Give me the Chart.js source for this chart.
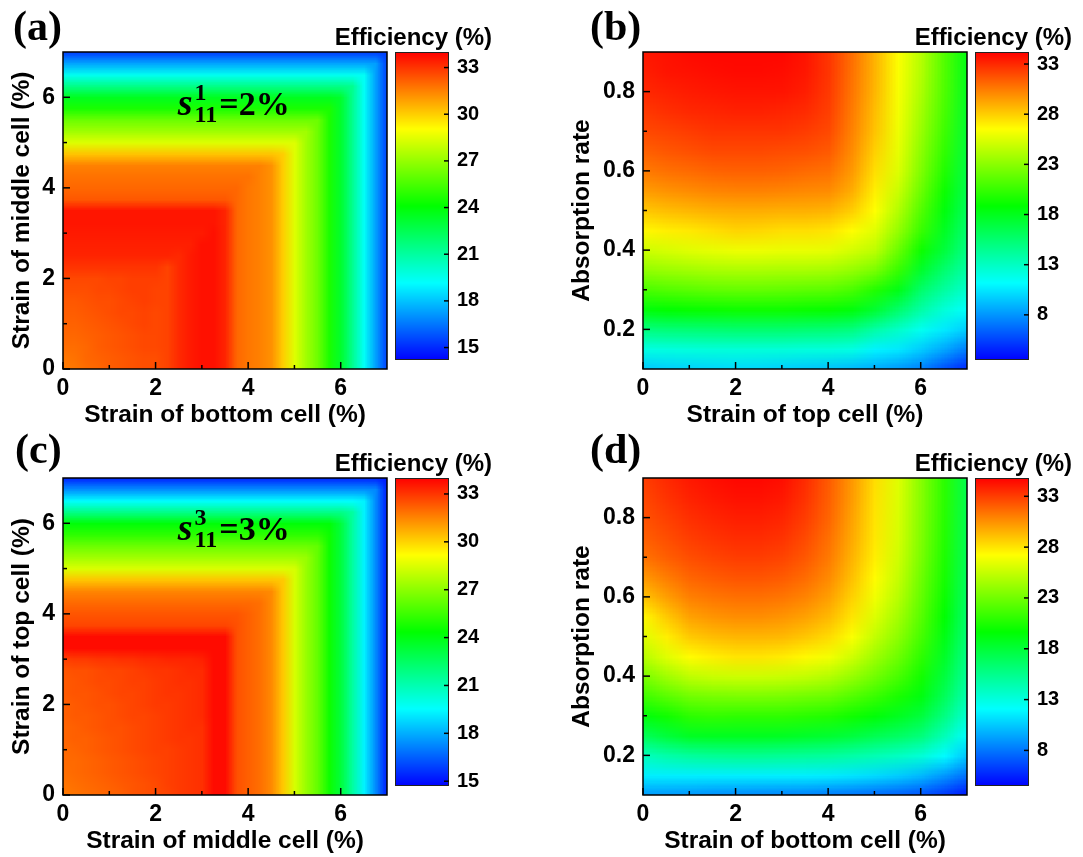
<!DOCTYPE html>
<html>
<head>
<meta charset="utf-8">
<script src="https://cdn.jsdelivr.net/npm/chart.js@4.4.0/dist/chart.umd.min.js"></script>
<style>
  body { margin: 0; background: #fff; width: 1083px; height: 857px; position: relative; overflow: hidden; }
  canvas { position: absolute; }
</style>
</head>
<body>
<canvas id="mapA" width="390" height="430" style="left:0px;top:0px"></canvas>
<canvas id="barA" width="168" height="380" style="left:325px;top:0px"></canvas>
<canvas id="mapB" width="410" height="430" style="left:560px;top:0px"></canvas>
<canvas id="barB" width="168" height="380" style="left:905px;top:0px"></canvas>
<canvas id="mapC" width="390" height="430" style="left:0px;top:426px"></canvas>
<canvas id="barC" width="168" height="380" style="left:325px;top:426px"></canvas>
<canvas id="mapD" width="410" height="430" style="left:560px;top:426px"></canvas>
<canvas id="barD" width="168" height="380" style="left:905px;top:426px"></canvas>
<script>
// grid positions
const strainFine = [0, 0.25, 0.5, 0.75, 1, 1.25, 1.5, 1.75, 2, 2.25, 2.5, 2.75, 3, 3.25, 3.5, 3.75,
  4, 4.25, 4.5, 4.75, 5, 5.25, 5.5, 5.75, 6, 6.25, 6.5, 6.75, 7];
const strainSteps = [0, 0.5, 1, 1.5, 2, 2.5, 3, 3.5, 4, 4.5, 5, 5.5, 6, 6.5, 7];
const absorbSteps = [0.1, 0.15, 0.2, 0.25, 0.3, 0.35, 0.4, 0.45, 0.5, 0.55, 0.6, 0.65, 0.7, 0.75, 0.8, 0.85, 0.9];

// tick values
const strainTicks = [0, 2, 4, 6];
const strainMinor = [1, 3, 5];
const absorbTicks = [0.2, 0.4, 0.6, 0.8];
const absorbMinor = [0.3, 0.5, 0.7];
const barTicksAC = [15, 18, 21, 24, 27, 30, 33];
const barTicksBD = [8, 13, 18, 23, 28, 33];

// colour bar ranges (%)
const rangeA = [14.2, 34.0];
const rangeB = [3.5, 34.2];
const rangeC = [14.7, 34.0];
const rangeD = [4.5, 34.8];

// (a) efficiency, rows = middle cell strain 0..7 (step 0.25), columns = bottom cell strain 0..7
const effA = [
  [31.6, 31.7, 31.9, 32.0, 32.2, 32.3, 32.4, 32.5, 32.5, 32.7, 33.2, 33.5, 33.7, 33.7, 33.3, 32.0, 31.7, 31.5, 31.2, 30.0, 28.4, 27.2, 26.2, 24.6, 23.2, 21.3, 19.3, 17.3, 15.4],
  [31.7, 31.8, 32.0, 32.1, 32.2, 32.3, 32.4, 32.5, 32.5, 32.7, 33.2, 33.5, 33.7, 33.7, 33.3, 32.0, 31.7, 31.5, 31.2, 30.0, 28.4, 27.2, 26.2, 24.6, 23.2, 21.3, 19.3, 17.3, 15.4],
  [31.9, 31.9, 32.0, 32.2, 32.3, 32.4, 32.5, 32.6, 32.6, 32.7, 33.2, 33.5, 33.7, 33.7, 33.3, 32.0, 31.7, 31.5, 31.2, 30.0, 28.4, 27.2, 26.2, 24.6, 23.2, 21.3, 19.3, 17.3, 15.4],
  [32.0, 32.0, 32.1, 32.2, 32.3, 32.4, 32.5, 32.6, 32.6, 32.7, 33.2, 33.5, 33.7, 33.7, 33.3, 32.0, 31.7, 31.5, 31.2, 30.0, 28.4, 27.2, 26.2, 24.6, 23.2, 21.3, 19.3, 17.3, 15.4],
  [32.1, 32.1, 32.2, 32.3, 32.4, 32.5, 32.6, 32.7, 32.6, 32.7, 33.2, 33.5, 33.7, 33.7, 33.3, 32.0, 31.7, 31.5, 31.2, 30.0, 28.4, 27.2, 26.2, 24.6, 23.2, 21.3, 19.3, 17.3, 15.4],
  [32.2, 32.2, 32.3, 32.4, 32.5, 32.6, 32.6, 32.7, 32.6, 32.7, 33.2, 33.5, 33.7, 33.7, 33.3, 32.0, 31.7, 31.5, 31.2, 30.0, 28.4, 27.2, 26.2, 24.6, 23.2, 21.3, 19.3, 17.3, 15.4],
  [32.3, 32.3, 32.4, 32.5, 32.5, 32.6, 32.7, 32.8, 32.7, 32.7, 33.2, 33.5, 33.7, 33.7, 33.3, 32.0, 31.7, 31.5, 31.2, 30.0, 28.4, 27.2, 26.2, 24.6, 23.2, 21.3, 19.3, 17.3, 15.4],
  [32.5, 32.5, 32.5, 32.6, 32.6, 32.7, 32.8, 32.8, 32.7, 32.7, 33.2, 33.5, 33.7, 33.7, 33.3, 32.0, 31.7, 31.5, 31.2, 30.0, 28.4, 27.2, 26.2, 24.6, 23.2, 21.3, 19.3, 17.3, 15.4],
  [32.6, 32.6, 32.6, 32.6, 32.7, 32.7, 32.8, 32.8, 32.8, 32.7, 33.2, 33.5, 33.7, 33.7, 33.3, 32.0, 31.7, 31.5, 31.2, 30.0, 28.4, 27.2, 26.2, 24.6, 23.2, 21.3, 19.3, 17.3, 15.4],
  [33.0, 33.0, 33.0, 33.0, 33.0, 33.0, 33.0, 33.0, 33.0, 32.7, 33.2, 33.5, 33.7, 33.7, 33.3, 32.0, 31.7, 31.5, 31.2, 30.0, 28.4, 27.2, 26.2, 24.6, 23.2, 21.3, 19.3, 17.3, 15.4],
  [33.3, 33.3, 33.3, 33.3, 33.3, 33.3, 33.3, 33.3, 33.3, 33.3, 33.2, 33.5, 33.7, 33.7, 33.3, 32.0, 31.7, 31.5, 31.2, 30.0, 28.4, 27.2, 26.2, 24.6, 23.2, 21.3, 19.3, 17.3, 15.4],
  [33.4, 33.4, 33.4, 33.4, 33.4, 33.4, 33.4, 33.4, 33.4, 33.4, 33.4, 33.4, 33.7, 33.7, 33.3, 32.0, 31.7, 31.5, 31.2, 30.0, 28.4, 27.2, 26.2, 24.6, 23.2, 21.3, 19.3, 17.3, 15.4],
  [33.5, 33.5, 33.5, 33.5, 33.5, 33.5, 33.5, 33.5, 33.5, 33.5, 33.5, 33.5, 33.5, 33.7, 33.3, 32.0, 31.7, 31.5, 31.2, 30.0, 28.4, 27.2, 26.2, 24.6, 23.2, 21.3, 19.3, 17.3, 15.4],
  [33.6, 33.6, 33.6, 33.6, 33.6, 33.6, 33.6, 33.6, 33.6, 33.6, 33.6, 33.6, 33.6, 33.6, 33.3, 32.0, 31.7, 31.5, 31.2, 30.0, 28.4, 27.2, 26.2, 24.6, 23.2, 21.3, 19.3, 17.3, 15.4],
  [33.6, 33.6, 33.6, 33.6, 33.6, 33.6, 33.6, 33.6, 33.6, 33.6, 33.6, 33.6, 33.6, 33.6, 33.3, 32.0, 31.7, 31.5, 31.2, 30.0, 28.4, 27.2, 26.2, 24.6, 23.2, 21.3, 19.3, 17.3, 15.4],
  [32.3, 32.3, 32.3, 32.3, 32.3, 32.3, 32.3, 32.3, 32.3, 32.3, 32.3, 32.3, 32.3, 32.3, 32.3, 32.0, 31.7, 31.5, 31.2, 30.0, 28.4, 27.2, 26.2, 24.6, 23.2, 21.3, 19.3, 17.3, 15.4],
  [32.0, 32.0, 32.0, 32.0, 32.0, 32.0, 32.0, 32.0, 32.0, 32.0, 32.0, 32.0, 32.0, 32.0, 32.0, 32.0, 31.7, 31.5, 31.2, 30.0, 28.4, 27.2, 26.2, 24.6, 23.2, 21.3, 19.3, 17.3, 15.4],
  [31.8, 31.8, 31.8, 31.8, 31.8, 31.8, 31.8, 31.8, 31.8, 31.8, 31.8, 31.8, 31.8, 31.8, 31.8, 31.8, 31.8, 31.5, 31.2, 30.0, 28.4, 27.2, 26.2, 24.6, 23.2, 21.3, 19.3, 17.3, 15.4],
  [31.5, 31.5, 31.5, 31.5, 31.5, 31.5, 31.5, 31.5, 31.5, 31.5, 31.5, 31.5, 31.5, 31.5, 31.5, 31.5, 31.5, 31.5, 31.2, 30.0, 28.4, 27.2, 26.2, 24.6, 23.2, 21.3, 19.3, 17.3, 15.4],
  [30.2, 30.2, 30.2, 30.2, 30.2, 30.2, 30.2, 30.2, 30.2, 30.2, 30.2, 30.2, 30.2, 30.2, 30.2, 30.2, 30.2, 30.2, 30.2, 30.0, 28.4, 27.2, 26.2, 24.6, 23.2, 21.3, 19.3, 17.3, 15.4],
  [28.4, 28.4, 28.4, 28.4, 28.4, 28.4, 28.4, 28.4, 28.4, 28.4, 28.4, 28.4, 28.4, 28.4, 28.4, 28.4, 28.4, 28.4, 28.4, 28.4, 28.4, 27.2, 26.2, 24.6, 23.2, 21.3, 19.3, 17.3, 15.4],
  [27.2, 27.2, 27.2, 27.2, 27.2, 27.2, 27.2, 27.2, 27.2, 27.2, 27.2, 27.2, 27.2, 27.2, 27.2, 27.2, 27.2, 27.2, 27.2, 27.2, 27.2, 27.2, 26.2, 24.6, 23.2, 21.3, 19.3, 17.3, 15.4],
  [26.2, 26.2, 26.2, 26.2, 26.2, 26.2, 26.2, 26.2, 26.2, 26.2, 26.2, 26.2, 26.2, 26.2, 26.2, 26.2, 26.2, 26.2, 26.2, 26.2, 26.2, 26.2, 26.2, 24.6, 23.2, 21.3, 19.3, 17.3, 15.4],
  [24.6, 24.6, 24.6, 24.6, 24.6, 24.6, 24.6, 24.6, 24.6, 24.6, 24.6, 24.6, 24.6, 24.6, 24.6, 24.6, 24.6, 24.6, 24.6, 24.6, 24.6, 24.6, 24.6, 24.6, 23.2, 21.3, 19.3, 17.3, 15.4],
  [23.5, 23.5, 23.5, 23.5, 23.5, 23.5, 23.5, 23.5, 23.5, 23.5, 23.5, 23.5, 23.5, 23.5, 23.5, 23.5, 23.5, 23.5, 23.5, 23.5, 23.5, 23.5, 23.5, 23.5, 23.2, 21.3, 19.3, 17.3, 15.4],
  [21.5, 21.5, 21.5, 21.5, 21.5, 21.5, 21.5, 21.5, 21.5, 21.5, 21.5, 21.5, 21.5, 21.5, 21.5, 21.5, 21.5, 21.5, 21.5, 21.5, 21.5, 21.5, 21.5, 21.5, 21.5, 21.3, 19.3, 17.3, 15.4],
  [19.4, 19.4, 19.4, 19.4, 19.4, 19.4, 19.4, 19.4, 19.4, 19.4, 19.4, 19.4, 19.4, 19.4, 19.4, 19.4, 19.4, 19.4, 19.4, 19.4, 19.4, 19.4, 19.4, 19.4, 19.4, 19.4, 19.3, 17.3, 15.4],
  [17.4, 17.4, 17.4, 17.4, 17.4, 17.4, 17.4, 17.4, 17.4, 17.4, 17.4, 17.4, 17.4, 17.4, 17.4, 17.4, 17.4, 17.4, 17.4, 17.4, 17.4, 17.4, 17.4, 17.4, 17.4, 17.4, 17.4, 17.3, 15.4],
  [15.4, 15.4, 15.4, 15.4, 15.4, 15.4, 15.4, 15.4, 15.4, 15.4, 15.4, 15.4, 15.4, 15.4, 15.4, 15.4, 15.4, 15.4, 15.4, 15.4, 15.4, 15.4, 15.4, 15.4, 15.4, 15.4, 15.4, 15.4, 15.4]
];

// (c) efficiency, rows = top cell strain 0..7 (step 0.25), columns = middle cell strain 0..7
const effC = [
  [31.7, 31.8, 31.9, 32.0, 32.1, 32.2, 32.4, 32.5, 32.6, 32.7, 32.9, 33.0, 33.1, 33.8, 33.8, 32.5, 32.2, 31.9, 31.4, 30.2, 28.4, 27.2, 26.2, 24.6, 23.2, 21.3, 19.3, 17.3, 15.2],
  [31.8, 31.9, 32.0, 32.1, 32.2, 32.3, 32.4, 32.5, 32.6, 32.8, 32.9, 33.0, 33.1, 33.8, 33.8, 32.5, 32.2, 31.9, 31.4, 30.2, 28.4, 27.2, 26.2, 24.6, 23.2, 21.3, 19.3, 17.3, 15.2],
  [31.9, 32.0, 32.1, 32.2, 32.3, 32.4, 32.5, 32.6, 32.7, 32.8, 32.9, 33.0, 33.1, 33.8, 33.8, 32.5, 32.2, 31.9, 31.4, 30.2, 28.4, 27.2, 26.2, 24.6, 23.2, 21.3, 19.3, 17.3, 15.2],
  [32.0, 32.0, 32.1, 32.2, 32.3, 32.4, 32.5, 32.6, 32.7, 32.8, 32.9, 33.0, 33.1, 33.8, 33.8, 32.5, 32.2, 31.9, 31.4, 30.2, 28.4, 27.2, 26.2, 24.6, 23.2, 21.3, 19.3, 17.3, 15.2],
  [32.0, 32.1, 32.2, 32.3, 32.4, 32.5, 32.6, 32.7, 32.8, 32.8, 32.9, 33.0, 33.1, 33.8, 33.8, 32.5, 32.2, 31.9, 31.4, 30.2, 28.4, 27.2, 26.2, 24.6, 23.2, 21.3, 19.3, 17.3, 15.2],
  [32.1, 32.2, 32.2, 32.3, 32.4, 32.5, 32.6, 32.7, 32.8, 32.9, 33.0, 33.0, 33.1, 33.8, 33.8, 32.5, 32.2, 31.9, 31.4, 30.2, 28.4, 27.2, 26.2, 24.6, 23.2, 21.3, 19.3, 17.3, 15.2],
  [32.1, 32.2, 32.3, 32.4, 32.5, 32.5, 32.6, 32.7, 32.8, 32.9, 33.0, 33.1, 33.1, 33.8, 33.8, 32.5, 32.2, 31.9, 31.4, 30.2, 28.4, 27.2, 26.2, 24.6, 23.2, 21.3, 19.3, 17.3, 15.2],
  [32.2, 32.3, 32.3, 32.4, 32.5, 32.6, 32.7, 32.7, 32.8, 32.9, 33.0, 33.1, 33.2, 33.8, 33.8, 32.5, 32.2, 31.9, 31.4, 30.2, 28.4, 27.2, 26.2, 24.6, 23.2, 21.3, 19.3, 17.3, 15.2],
  [32.2, 32.3, 32.4, 32.5, 32.5, 32.6, 32.7, 32.8, 32.9, 32.9, 33.0, 33.1, 33.2, 33.8, 33.8, 32.5, 32.2, 31.9, 31.4, 30.2, 28.4, 27.2, 26.2, 24.6, 23.2, 21.3, 19.3, 17.3, 15.2],
  [32.3, 32.4, 32.4, 32.5, 32.6, 32.7, 32.7, 32.8, 32.9, 33.0, 33.0, 33.1, 33.2, 33.8, 33.8, 32.5, 32.2, 31.9, 31.4, 30.2, 28.4, 27.2, 26.2, 24.6, 23.2, 21.3, 19.3, 17.3, 15.2],
  [32.3, 32.4, 32.5, 32.6, 32.6, 32.7, 32.8, 32.8, 32.9, 33.0, 33.1, 33.1, 33.2, 33.8, 33.8, 32.5, 32.2, 31.9, 31.4, 30.2, 28.4, 27.2, 26.2, 24.6, 23.2, 21.3, 19.3, 17.3, 15.2],
  [32.4, 32.5, 32.5, 32.6, 32.7, 32.7, 32.8, 32.9, 33.0, 33.0, 33.1, 33.2, 33.2, 33.8, 33.8, 32.5, 32.2, 31.9, 31.4, 30.2, 28.4, 27.2, 26.2, 24.6, 23.2, 21.3, 19.3, 17.3, 15.2],
  [32.8, 32.9, 32.9, 33.0, 33.0, 33.1, 33.1, 33.2, 33.2, 33.3, 33.3, 33.3, 33.4, 33.8, 33.8, 32.5, 32.2, 31.9, 31.4, 30.2, 28.4, 27.2, 26.2, 24.6, 23.2, 21.3, 19.3, 17.3, 15.2],
  [33.8, 33.8, 33.8, 33.8, 33.8, 33.8, 33.8, 33.8, 33.8, 33.8, 33.8, 33.8, 33.8, 33.8, 33.8, 32.5, 32.2, 31.9, 31.4, 30.2, 28.4, 27.2, 26.2, 24.6, 23.2, 21.3, 19.3, 17.3, 15.2],
  [33.8, 33.8, 33.8, 33.8, 33.8, 33.8, 33.8, 33.8, 33.8, 33.8, 33.8, 33.8, 33.8, 33.8, 33.8, 32.5, 32.2, 31.9, 31.4, 30.2, 28.4, 27.2, 26.2, 24.6, 23.2, 21.3, 19.3, 17.3, 15.2],
  [32.7, 32.7, 32.7, 32.7, 32.7, 32.7, 32.7, 32.7, 32.7, 32.7, 32.7, 32.7, 32.7, 32.7, 32.7, 32.5, 32.2, 31.9, 31.4, 30.2, 28.4, 27.2, 26.2, 24.6, 23.2, 21.3, 19.3, 17.3, 15.2],
  [32.4, 32.4, 32.4, 32.4, 32.4, 32.4, 32.4, 32.4, 32.4, 32.4, 32.4, 32.4, 32.4, 32.4, 32.4, 32.4, 32.2, 31.9, 31.4, 30.2, 28.4, 27.2, 26.2, 24.6, 23.2, 21.3, 19.3, 17.3, 15.2],
  [32.0, 32.0, 32.0, 32.0, 32.0, 32.0, 32.0, 32.0, 32.0, 32.0, 32.0, 32.0, 32.0, 32.0, 32.0, 32.0, 32.0, 31.9, 31.4, 30.2, 28.4, 27.2, 26.2, 24.6, 23.2, 21.3, 19.3, 17.3, 15.2],
  [31.5, 31.5, 31.5, 31.5, 31.5, 31.5, 31.5, 31.5, 31.5, 31.5, 31.5, 31.5, 31.5, 31.5, 31.5, 31.5, 31.5, 31.5, 31.4, 30.2, 28.4, 27.2, 26.2, 24.6, 23.2, 21.3, 19.3, 17.3, 15.2],
  [30.3, 30.3, 30.3, 30.3, 30.3, 30.3, 30.3, 30.3, 30.3, 30.3, 30.3, 30.3, 30.3, 30.3, 30.3, 30.3, 30.3, 30.3, 30.3, 30.2, 28.4, 27.2, 26.2, 24.6, 23.2, 21.3, 19.3, 17.3, 15.2],
  [28.5, 28.5, 28.5, 28.5, 28.5, 28.5, 28.5, 28.5, 28.5, 28.5, 28.5, 28.5, 28.5, 28.5, 28.5, 28.5, 28.5, 28.5, 28.5, 28.5, 28.4, 27.2, 26.2, 24.6, 23.2, 21.3, 19.3, 17.3, 15.2],
  [27.4, 27.4, 27.4, 27.4, 27.4, 27.4, 27.4, 27.4, 27.4, 27.4, 27.4, 27.4, 27.4, 27.4, 27.4, 27.4, 27.4, 27.4, 27.4, 27.4, 27.4, 27.2, 26.2, 24.6, 23.2, 21.3, 19.3, 17.3, 15.2],
  [26.4, 26.4, 26.4, 26.4, 26.4, 26.4, 26.4, 26.4, 26.4, 26.4, 26.4, 26.4, 26.4, 26.4, 26.4, 26.4, 26.4, 26.4, 26.4, 26.4, 26.4, 26.4, 26.2, 24.6, 23.2, 21.3, 19.3, 17.3, 15.2],
  [25.2, 25.2, 25.2, 25.2, 25.2, 25.2, 25.2, 25.2, 25.2, 25.2, 25.2, 25.2, 25.2, 25.2, 25.2, 25.2, 25.2, 25.2, 25.2, 25.2, 25.2, 25.2, 25.2, 24.6, 23.2, 21.3, 19.3, 17.3, 15.2],
  [24.2, 24.2, 24.2, 24.2, 24.2, 24.2, 24.2, 24.2, 24.2, 24.2, 24.2, 24.2, 24.2, 24.2, 24.2, 24.2, 24.2, 24.2, 24.2, 24.2, 24.2, 24.2, 24.2, 24.2, 23.2, 21.3, 19.3, 17.3, 15.2],
  [21.8, 21.8, 21.8, 21.8, 21.8, 21.8, 21.8, 21.8, 21.8, 21.8, 21.8, 21.8, 21.8, 21.8, 21.8, 21.8, 21.8, 21.8, 21.8, 21.8, 21.8, 21.8, 21.8, 21.8, 21.8, 21.3, 19.3, 17.3, 15.2],
  [19.5, 19.5, 19.5, 19.5, 19.5, 19.5, 19.5, 19.5, 19.5, 19.5, 19.5, 19.5, 19.5, 19.5, 19.5, 19.5, 19.5, 19.5, 19.5, 19.5, 19.5, 19.5, 19.5, 19.5, 19.5, 19.5, 19.3, 17.3, 15.2],
  [17.4, 17.4, 17.4, 17.4, 17.4, 17.4, 17.4, 17.4, 17.4, 17.4, 17.4, 17.4, 17.4, 17.4, 17.4, 17.4, 17.4, 17.4, 17.4, 17.4, 17.4, 17.4, 17.4, 17.4, 17.4, 17.4, 17.4, 17.3, 15.2],
  [15.4, 15.4, 15.4, 15.4, 15.4, 15.4, 15.4, 15.4, 15.4, 15.4, 15.4, 15.4, 15.4, 15.4, 15.4, 15.4, 15.4, 15.4, 15.4, 15.4, 15.4, 15.4, 15.4, 15.4, 15.4, 15.4, 15.4, 15.4, 15.2]
];

// (b) efficiency, one column per top cell strain (step 0.5), absorption 0.1 -> 0.9
const effB = [
  [9.5, 12.0, 15.0, 18.5, 21.0, 23.2, 25.0, 26.7, 28.2, 29.5, 30.5, 31.3, 32.0, 32.5, 33.0, 33.3, 33.5],
  [9.7, 12.1, 15.2, 18.8, 21.3, 23.5, 25.3, 27.0, 28.5, 29.8, 30.8, 31.6, 32.2, 32.8, 33.2, 33.6, 33.7],
  [9.8, 12.2, 15.3, 19.0, 21.5, 23.7, 25.6, 27.2, 28.7, 30.0, 31.0, 31.8, 32.4, 33.0, 33.4, 33.7, 33.9],
  [9.9, 12.3, 15.4, 19.1, 21.7, 23.9, 25.8, 27.5, 28.9, 30.2, 31.2, 32.0, 32.6, 33.1, 33.5, 33.8, 34.0],
  [10.0, 12.3, 15.5, 19.2, 21.8, 24.0, 26.0, 27.8, 29.0, 30.3, 31.3, 32.0, 32.6, 33.2, 33.6, 33.9, 34.0],
  [9.9, 12.3, 15.5, 19.2, 21.8, 24.0, 26.0, 27.7, 29.0, 30.3, 31.3, 32.0, 32.6, 33.2, 33.6, 33.9, 34.0],
  [9.7, 12.3, 15.5, 19.2, 21.7, 23.9, 25.9, 27.5, 28.9, 30.2, 31.2, 31.9, 32.6, 33.1, 33.6, 33.8, 34.0],
  [9.5, 12.2, 15.4, 19.1, 21.6, 23.9, 25.9, 27.5, 28.9, 30.1, 31.0, 31.8, 32.4, 32.9, 33.3, 33.5, 33.6],
  [9.3, 12.2, 15.3, 19.0, 21.5, 23.8, 25.8, 27.3, 28.8, 30.0, 30.8, 31.5, 32.0, 32.3, 32.5, 32.6, 32.6],
  [9.0, 12.0, 15.0, 18.5, 21.0, 23.3, 25.2, 26.6, 28.0, 29.0, 29.6, 30.0, 30.3, 30.5, 30.7, 30.8, 30.9],
  [8.6, 10.8, 13.8, 17.3, 19.8, 22.5, 24.5, 25.6, 26.5, 27.0, 27.5, 27.9, 28.3, 28.5, 28.7, 28.8, 28.8],
  [8.0, 10.5, 12.8, 15.6, 18.2, 20.5, 22.0, 23.3, 24.2, 24.9, 25.5, 25.8, 26.0, 26.2, 26.3, 26.4, 26.5],
  [7.3, 9.6, 11.6, 13.8, 15.6, 17.5, 19.2, 20.5, 21.3, 22.0, 22.6, 23.0, 23.4, 23.7, 24.0, 24.2, 24.3],
  [5.8, 8.5, 10.5, 12.3, 14.0, 15.5, 17.0, 17.8, 18.5, 19.2, 19.8, 20.3, 20.7, 21.0, 21.2, 21.3, 21.3],
  [4.5, 7.2, 9.6, 11.2, 12.6, 13.8, 14.7, 15.4, 16.0, 16.4, 16.7, 17.0, 17.3, 17.6, 17.9, 18.1, 18.3]
];

// (d) efficiency, one column per bottom cell strain (step 0.5), absorption 0.1 -> 0.9
const effD = [
  [9.0, 11.6, 14.0, 17.0, 19.3, 21.5, 23.3, 25.1, 26.3, 27.4, 29.0, 30.3, 31.4, 32.0, 32.4, 32.7, 33.0],
  [8.9, 11.6, 14.6, 17.9, 20.1, 22.3, 24.4, 26.3, 27.7, 28.8, 30.1, 31.1, 32.0, 32.5, 32.9, 33.3, 33.6],
  [8.8, 11.6, 15.0, 18.6, 20.9, 23.0, 25.3, 27.3, 28.8, 30.0, 31.0, 31.8, 32.5, 33.0, 33.4, 33.8, 34.1],
  [8.6, 11.6, 15.2, 18.7, 21.1, 23.2, 25.6, 27.7, 29.2, 30.4, 31.3, 32.1, 32.8, 33.3, 33.7, 34.1, 34.4],
  [8.5, 11.6, 15.3, 18.7, 21.0, 23.3, 25.7, 28.0, 29.4, 30.6, 31.5, 32.3, 33.0, 33.5, 33.9, 34.3, 34.6],
  [8.4, 11.6, 15.3, 18.7, 21.0, 23.3, 25.7, 28.0, 29.4, 30.6, 31.5, 32.3, 33.0, 33.5, 33.9, 34.3, 34.6],
  [8.3, 11.6, 15.2, 18.6, 21.0, 23.2, 25.6, 27.8, 29.3, 30.4, 31.3, 32.1, 32.8, 33.3, 33.7, 34.1, 34.4],
  [8.2, 11.6, 15.1, 18.4, 20.8, 23.0, 25.4, 27.4, 28.9, 30.0, 30.9, 31.6, 32.2, 32.6, 33.0, 33.3, 33.5],
  [8.0, 11.5, 15.0, 18.2, 20.6, 22.8, 25.0, 26.9, 28.3, 29.3, 30.1, 30.7, 31.2, 31.5, 31.8, 32.0, 32.1],
  [7.8, 11.3, 14.7, 17.8, 20.1, 22.1, 24.1, 25.8, 27.1, 28.0, 28.6, 29.1, 29.5, 29.8, 30.0, 30.2, 30.3],
  [7.5, 11.0, 14.3, 17.2, 19.4, 21.3, 23.0, 24.3, 25.4, 26.2, 26.8, 27.3, 27.7, 27.9, 28.0, 28.1, 28.2],
  [7.2, 10.6, 13.9, 16.7, 18.7, 20.4, 21.8, 22.9, 23.8, 24.5, 25.1, 25.5, 25.8, 26.0, 26.1, 26.2, 26.3],
  [6.8, 10.0, 13.3, 16.0, 17.8, 19.2, 20.2, 21.0, 21.7, 22.2, 22.6, 22.9, 23.2, 23.4, 23.5, 23.6, 23.6],
  [6.0, 9.0, 12.0, 14.2, 15.8, 17.0, 17.8, 18.5, 19.1, 19.6, 20.0, 20.3, 20.5, 20.7, 20.8, 20.9, 20.9],
  [5.0, 7.8, 10.3, 12.0, 13.3, 14.3, 15.0, 15.5, 16.0, 16.3, 16.6, 16.8, 17.0, 17.1, 17.2, 17.3, 17.3]
];

Chart.defaults.font.family = '"Liberation Sans", Arial, sans-serif';
Chart.defaults.font.weight = 'bold';
Chart.defaults.color = '#000';

// Origin-like rainbow palette
const RAINBOW = [
  [0, [0, 0, 255]], [0.25, [0, 255, 255]], [0.5, [0, 255, 0]],
  [0.75, [255, 255, 0]], [0.875, [255, 128, 0]], [1, [255, 0, 0]]
];

function colourFor(v, range) {
  let t = (v - range[0]) / (range[1] - range[0]);
  t = Math.min(1, Math.max(0, t));
  for (let k = 1; k < RAINBOW.length; k++) {
    const [t1, c1] = RAINBOW[k];
    if (t <= t1) {
      const [t0, c0] = RAINBOW[k - 1];
      const f = (t - t0) / (t1 - t0);
      return c0.map((c, n) => Math.round(c + (c1[n] - c) * f));
    }
  }
  return RAINBOW[RAINBOW.length - 1][1];
}

function line(ctx, x0, y0, x1, y1) {
  ctx.beginPath();
  ctx.moveTo(x0, y0);
  ctx.lineTo(x1, y1);
  ctx.stroke();
}

function heatPlugin(cfg) {
  return {
    id: 'heat',
    beforeDatasetsDraw(chart) {
      const {ctx, chartArea: a, scales: {x, y}} = chart;
      const nx = cfg.xs.length, ny = cfg.ys.length;
      // one pixel per grid value, then scaled onto the axes
      const img = document.createElement('canvas');
      img.width = nx;
      img.height = ny;
      const ic = img.getContext('2d');
      const im = ic.createImageData(nx, ny);
      chart.data.datasets[0].data.forEach(p => {
        const c = colourFor(p.v, cfg.range);
        const k = ((ny - 1 - p.j) * nx + p.i) * 4;
        im.data[k] = c[0];
        im.data[k + 1] = c[1];
        im.data[k + 2] = c[2];
        im.data[k + 3] = 255;
      });
      ic.putImageData(im, 0, 0);
      const hx = (cfg.xs[1] - cfg.xs[0]) / 2, hy = (cfg.ys[1] - cfg.ys[0]) / 2;
      const x0 = x.getPixelForValue(cfg.xs[0] - hx), x1 = x.getPixelForValue(cfg.xs[nx - 1] + hx);
      const y0 = y.getPixelForValue(cfg.ys[ny - 1] + hy), y1 = y.getPixelForValue(cfg.ys[0] - hy);
      ctx.save();
      ctx.beginPath();
      ctx.rect(a.left, a.top, a.width, a.height);
      ctx.clip();
      ctx.imageSmoothingEnabled = true;
      ctx.drawImage(img, x0, y0, x1 - x0, y1 - y0);
      ctx.restore();
    },
    afterDraw(chart) {
      const {ctx, chartArea: a, scales: {x, y}} = chart;
      ctx.save();
      ctx.strokeStyle = '#000';
      ctx.lineWidth = 1.5;
      // ticks point into the plot
      x.ticks.forEach(t => { const p = x.getPixelForValue(t.value); line(ctx, p, a.bottom, p, a.bottom - 7); });
      cfg.xMinor.forEach(v => { const p = x.getPixelForValue(v); line(ctx, p, a.bottom, p, a.bottom - 4); });
      y.ticks.forEach(t => { const p = y.getPixelForValue(t.value); line(ctx, a.left, p, a.left + 7, p); });
      cfg.yMinor.forEach(v => { const p = y.getPixelForValue(v); line(ctx, a.left, p, a.left + 4, p); });
      ctx.strokeRect(a.left, a.top, a.width, a.height);

      ctx.fillStyle = '#000';
      ctx.textAlign = 'left';
      ctx.textBaseline = 'alphabetic';
      ctx.font = 'bold 42px "Liberation Serif"';
      ctx.fillText(cfg.letter, cfg.letterAt[0], cfg.letterAt[1]);

      if (cfg.note) {
        const n = cfg.note;
        const px = x.getPixelForValue(n.x), py = y.getPixelForValue(n.y);
        ctx.font = 'italic bold 38px "Liberation Serif"';
        ctx.fillText('s', px, py);
        const sx = px + ctx.measureText('s').width + 2;
        ctx.font = 'bold 24px "Liberation Serif"';
        ctx.fillText(n.sup, sx, py - 15);
        ctx.fillText(n.sub, sx, py + 7);
        const w = Math.max(ctx.measureText(n.sup).width, ctx.measureText(n.sub).width);
        ctx.font = 'bold 34px "Liberation Serif"';
        ctx.fillText(n.tail, sx + w + 2, py);
      }
      ctx.restore();
    }
  };
}

function axis(min, max, ticks, title, fit, pad, fmt) {
  return {
    type: 'linear', min, max,
    grid: {display: false, drawTicks: false},
    border: {display: false},
    afterBuildTicks: s => { s.ticks = ticks.map(v => ({value: v})); },
    afterFit: fit,
    ticks: {color: '#000', font: {size: 23, weight: 'bold'}, padding: pad, maxRotation: 0, autoSkip: false, callback: fmt},
    title: {display: true, text: title, color: '#000', font: {size: 24.5, weight: 'bold'}, padding: 0}
  };
}

function heatmap(id, cfg) {
  const pts = [];
  cfg.xs.forEach((xv, i) => cfg.ys.forEach((yv, j) => {
    pts.push({x: xv, y: yv, v: cfg.byColumn ? cfg.grid[i][j] : cfg.grid[j][i], i, j});
  }));
  return new Chart(document.getElementById(id), {
    type: 'scatter',
    data: {datasets: [{data: pts, pointRadius: 0, pointHoverRadius: 0}]},
    options: {
      responsive: false,
      animation: false,
      events: [],
      layout: {padding: {left: 8, top: 52, right: 3, bottom: 0}},
      plugins: {legend: {display: false}, tooltip: {enabled: false}},
      scales: {
        x: axis(0, 7, cfg.xTicks, cfg.xTitle, s => { s.height = 61; }, 6, v => String(v)),
        y: axis(cfg.yRange[0], cfg.yRange[1], cfg.yTicks, cfg.yTitle, s => { s.width = cfg.yWidth; }, 8, cfg.yFmt)
      }
    },
    plugins: [heatPlugin(cfg)]
  });
}

function barPlugin(range) {
  return {
    id: 'bar',
    beforeDatasetsDraw(chart) {
      const {ctx, chartArea: a, scales: {y}} = chart;
      ctx.save();
      for (let py = Math.floor(a.top); py < a.bottom; py++) {
        const c = colourFor(y.getValueForPixel(py + 0.5), range);
        ctx.fillStyle = 'rgb(' + c.join(',') + ')';
        ctx.fillRect(a.left, py, a.width, 1);
      }
      ctx.strokeStyle = '#222';
      ctx.lineWidth = 1;
      ctx.strokeRect(a.left + 0.5, a.top + 0.5, a.width - 1, a.height - 1);
      ctx.lineWidth = 1.5;
      ctx.strokeStyle = '#000';
      y.ticks.forEach(t => { const p = y.getPixelForValue(t.value); line(ctx, a.right, p, a.right - 5, p); });
      ctx.fillStyle = '#000';
      ctx.font = 'bold 24px "Liberation Sans"';
      ctx.textAlign = 'right';
      ctx.textBaseline = 'alphabetic';
      ctx.fillText('Efficiency (%)', chart.width - 1, 45);
      ctx.restore();
    }
  };
}

function colourbar(id, range, ticks) {
  return new Chart(document.getElementById(id), {
    type: 'scatter',
    data: {datasets: []},
    options: {
      responsive: false,
      animation: false,
      events: [],
      layout: {padding: {left: 70, top: 52, right: 0, bottom: 11}},
      plugins: {legend: {display: false}, tooltip: {enabled: false}},
      scales: {
        x: {display: false},
        y: {
          position: 'right', min: range[0], max: range[1],
          grid: {display: false, drawTicks: false},
          border: {display: false},
          afterBuildTicks: s => { s.ticks = ticks.map(v => ({value: v})); },
          afterFit: s => { s.width = 44; },
          ticks: {color: '#000', font: {size: 20, weight: 'bold'}, padding: 8}
        }
      }
    },
    plugins: [barPlugin(range)]
  });
}

const strainFmt = v => String(v);
const absorbFmt = v => v.toFixed(1);

heatmap('mapA', {
  grid: effA, xs: strainFine, ys: strainFine, range: rangeA,
  xTicks: strainTicks, xMinor: strainMinor, yTicks: strainTicks, yMinor: strainMinor,
  yRange: [0, 7], yWidth: 55, yFmt: strainFmt,
  xTitle: 'Strain of bottom cell (%)', yTitle: 'Strain of middle cell (%)',
  letter: '(a)', letterAt: [13, 40],
  note: {x: 2.48, y: 5.61, sup: '1', sub: '11', tail: '=2%'}
});
colourbar('barA', rangeA, barTicksAC);

heatmap('mapB', {
  grid: effB, byColumn: true, xs: strainSteps, ys: absorbSteps, range: rangeB,
  xTicks: strainTicks, xMinor: strainMinor, yTicks: absorbTicks, yMinor: absorbMinor,
  yRange: [0.1, 0.9], yWidth: 75, yFmt: absorbFmt,
  xTitle: 'Strain of top cell (%)', yTitle: 'Absorption rate',
  letter: '(b)', letterAt: [30, 40]
});
colourbar('barB', rangeB, barTicksBD);

heatmap('mapC', {
  grid: effC, xs: strainFine, ys: strainFine, range: rangeC,
  xTicks: strainTicks, xMinor: strainMinor, yTicks: strainTicks, yMinor: strainMinor,
  yRange: [0, 7], yWidth: 55, yFmt: strainFmt,
  xTitle: 'Strain of middle cell (%)', yTitle: 'Strain of top cell (%)',
  letter: '(c)', letterAt: [15, 37],
  note: {x: 2.48, y: 5.63, sup: '3', sub: '11', tail: '=3%'}
});
colourbar('barC', rangeC, barTicksAC);

heatmap('mapD', {
  grid: effD, byColumn: true, xs: strainSteps, ys: absorbSteps, range: rangeD,
  xTicks: strainTicks, xMinor: strainMinor, yTicks: absorbTicks, yMinor: absorbMinor,
  yRange: [0.1, 0.9], yWidth: 75, yFmt: absorbFmt,
  xTitle: 'Strain of bottom cell (%)', yTitle: 'Absorption rate',
  letter: '(d)', letterAt: [30, 37]
});
colourbar('barD', rangeD, barTicksBD);
</script>
</body>
</html>
